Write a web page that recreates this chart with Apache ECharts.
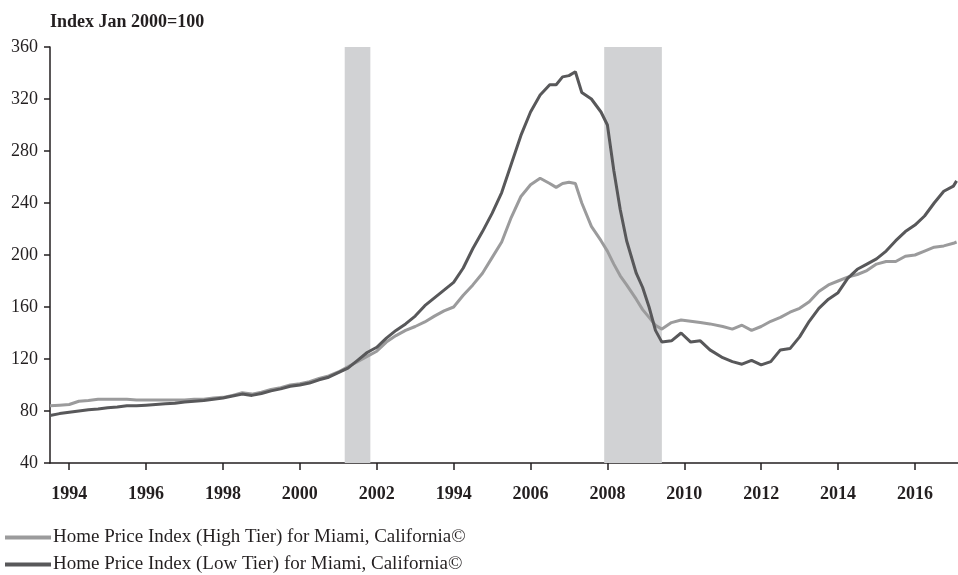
<!DOCTYPE html>
<html>
<head>
<meta charset="utf-8">
<title>Home Price Index - Miami</title>
<script src="https://cdn.jsdelivr.net/npm/echarts@6.0.0/dist/echarts.min.js"></script>
<style>
  html, body { margin: 0; padding: 0; background: #fff; }
  #chart { width: 958px; height: 575px; }
</style>
</head>
<body>
<div id="chart"></div>
<script>
var dates = [
  '1993-07','1993-10','1994-01','1994-04','1994-07','1994-10',
  '1995-01','1995-04','1995-07','1995-10',
  '1996-01','1996-04','1996-07','1996-10',
  '1997-01','1997-04','1997-07','1997-10',
  '1998-01','1998-04','1998-07','1998-10',
  '1999-01','1999-04','1999-07','1999-10',
  '2000-01','2000-04','2000-07','2000-10',
  '2001-01','2001-04','2001-07','2001-10',
  '2002-01','2002-04','2002-07','2002-10',
  '2003-01','2003-04','2003-07','2003-10',
  '2004-01','2004-04','2004-07','2004-10',
  '2005-01','2005-04','2005-07','2005-10',
  '2006-01','2006-04','2006-07','2006-09','2006-11',
  '2007-01','2007-03','2007-05','2007-08','2007-11',
  '2008-01','2008-03','2008-05','2008-07','2008-10','2008-12',
  '2009-02','2009-04','2009-06','2009-09','2009-12',
  '2010-03','2010-06','2010-09',
  '2011-01','2011-04','2011-07','2011-10',
  '2012-01','2012-04','2012-07','2012-10',
  '2013-01','2013-04','2013-07','2013-10',
  '2014-01','2014-04','2014-07','2014-10',
  '2015-01','2015-04','2015-07','2015-10',
  '2016-01','2016-04','2016-07','2016-10',
  '2017-01','2017-02'
];

var highTier = [
  84, 84.5, 85, 87.5, 88, 89,
  89, 89, 89, 88.5,
  88.5, 88.5, 88.5, 88.5,
  88.5, 89, 89, 90,
  90.5, 92, 94, 93,
  94.5, 96.5, 98, 100,
  101, 102.5, 105, 107,
  110, 114, 118, 122,
  126, 133, 138, 142,
  145, 148.5, 153, 157,
  160, 169, 177, 186,
  198, 210, 229, 245,
  254, 259, 255, 252, 255,
  256, 255, 240, 222, 211,
  203, 193, 184, 177, 166, 158,
  152, 146, 143, 148, 150,
  149, 148, 147,
  145, 143, 146, 142,
  145, 149, 152, 156,
  159, 164, 172, 177,
  180, 183, 185, 188,
  193, 195, 195, 199,
  200, 203, 206, 207,
  209, 210
];

var lowTier = [
  76.5, 78, 79, 80, 81, 81.5,
  82.5, 83, 84, 84,
  84.5, 85, 85.5, 86,
  87, 87.5, 88, 89,
  90, 91.5, 93, 92,
  93.5, 95.5, 97, 99,
  100, 101.5, 104, 106,
  109.5, 113, 119, 125,
  129, 136, 142, 147,
  153, 161, 167, 173,
  179, 190, 205, 218,
  232, 248, 270, 292,
  310, 323, 331, 331, 337,
  338, 341, 325, 320, 310,
  300, 265, 235, 211, 186, 175,
  160, 142, 133, 134, 140,
  133, 134, 127,
  121, 118, 116, 119,
  115.5, 118, 127, 128,
  137, 149, 159, 166,
  171, 182, 189, 193,
  197, 203, 211, 218,
  223, 230, 240, 249,
  253, 257
];

// recession periods (shaded)
var recessions = [['2001-03', '2001-11'], ['2007-12', '2009-06']];

var tickYears = [1994, 1996, 1998, 2000, 2002, 2004, 2006, 2008, 2010, 2012, 2014, 2016];
var tickLabels = ['1994', '1996', '1998', '2000', '2002', '1994', '2006', '2008', '2010', '2012', '2014', '2016'];

var seriesNames = [
  'Home Price Index (High Tier) for Miami, California\u00A9',
  'Home Price Index (Low Tier) for Miami, California\u00A9'
];

function toYear(s) {
  var p = s.split('-');
  return +p[0] + (+p[1] - 1) / 12;
}

function pairs(values) {
  return dates.map(function (d, i) { return [toYear(d), values[i]]; });
}

var serif = '"Liberation Serif", "Times New Roman", serif';
var ink = '#231f20';

function legendRow(name, top) {
  return {
    left: 0,
    top: top,
    itemWidth: 46,
    itemHeight: 4,
    icon: 'rect',
    textStyle: { fontFamily: serif, fontSize: 19, color: ink, padding: [0, 0, 0, -3] },
    data: [name]
  };
}

var myChart = echarts.init(document.getElementById('chart'));
var option = {
  animation: false,
  title: {
    text: 'Index Jan 2000=100',
    left: 45,
    top: 8,
    textStyle: { fontFamily: serif, fontSize: 18, fontWeight: 'bold', color: ink }
  },
  legend: [legendRow(seriesNames[0], 523), legendRow(seriesNames[1], 550)],
  grid: { left: 50, right: 0, top: 47, bottom: 112, containLabel: false },
  xAxis: {
    type: 'value',
    min: 1993.5,
    max: 2017.12,
    axisLine: { show: true, lineStyle: { color: ink, width: 1.5 } },
    axisTick: { show: true, customValues: tickYears, length: 7, lineStyle: { color: ink, width: 1.5 } },
    axisLabel: {
      customValues: tickYears,
      margin: 22,
      fontFamily: serif,
      fontSize: 18,
      fontWeight: 'bold',
      color: ink,
      formatter: function (v) { return tickLabels[tickYears.indexOf(Math.round(v))]; }
    },
    splitLine: { show: false }
  },
  yAxis: {
    type: 'value',
    min: 40,
    max: 360,
    interval: 40,
    axisLine: { show: true, lineStyle: { color: ink, width: 1.5 } },
    axisTick: { show: true, length: 6, lineStyle: { color: ink, width: 1.5 } },
    axisLabel: { margin: 12, fontFamily: serif, fontSize: 18, color: ink },
    splitLine: { show: false }
  },
  series: [
    {
      name: seriesNames[0],
      type: 'line',
      symbol: 'none',
      z: 3,
      data: pairs(highTier),
      itemStyle: { color: '#9b9b9c' },
      lineStyle: { color: '#9b9b9c', width: 3 },
      markArea: {
        silent: true,
        z: 1,
        itemStyle: { color: '#d1d2d4' },
        data: recessions.map(function (r) {
          return [{ xAxis: toYear(r[0]) }, { xAxis: toYear(r[1]) }];
        })
      }
    },
    {
      name: seriesNames[1],
      type: 'line',
      symbol: 'none',
      z: 4,
      data: pairs(lowTier),
      itemStyle: { color: '#58585a' },
      lineStyle: { color: '#58585a', width: 3 }
    }
  ]
};

myChart.setOption(option);
</script>
</body>
</html>
